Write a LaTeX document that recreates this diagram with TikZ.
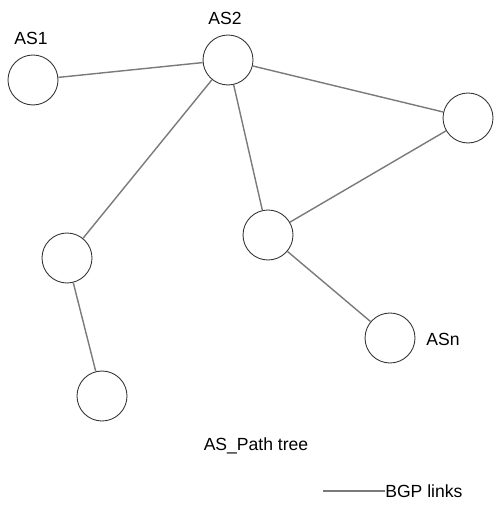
\documentclass[tikz,border=0pt]{standalone}
\usepackage{fontspec}
\setmainfont{Liberation Sans}
\usepackage{tikz}
\definecolor{linkgray}{HTML}{7a7a7a}
\definecolor{ringgray}{HTML}{333333}

\begin{document}
\begin{tikzpicture}[x=0.02cm,y=-0.02cm,
  as/.style={circle,draw=ringgray,line width=0.5pt,minimum size=1cm,inner sep=0pt},
  link/.style={draw=linkgray,line width=0.8pt},
  lbl/.style={font=\fontsize{10}{12}\selectfont,inner sep=0pt}]
  \useasboundingbox (0,0) rectangle (500,509);
  % 自治系统
  \node[as] (as1) at (33,80) {};
  \node[as] (as2) at (228,60) {};
  \node[as] (ar) at (468,118) {};
  \node[as] (am) at (268,235) {};
  \node[as] (al) at (67,258) {};
  \node[as] (ab) at (102,396) {};
  \node[as] (asn) at (390,338) {};
  % 标签
  \node[lbl] at (31,38) {AS1};
  \node[lbl] at (225,18) {AS2};
  \node[lbl] at (443,339) {ASn};
  \node[lbl] at (256,446) {AS\_Path tree};
  % BGP 链路
  \draw[link] (as1) -- (as2);
  \draw[link] (as2) -- (ar);
  \draw[link] (as2) -- (al);
  \draw[link] (as2) -- (am);
  \draw[link] (am) -- (ar);
  \draw[link] (am) -- (asn);
  \draw[link] (al) -- (ab);
  % 图例
  \coordinate (lg1) at (323,491);
  \node[lbl,anchor=west] (lgt) at (385,491) {BGP links};
  \draw[link] (lg1) -- (lgt.west);
\end{tikzpicture}
\end{document}
